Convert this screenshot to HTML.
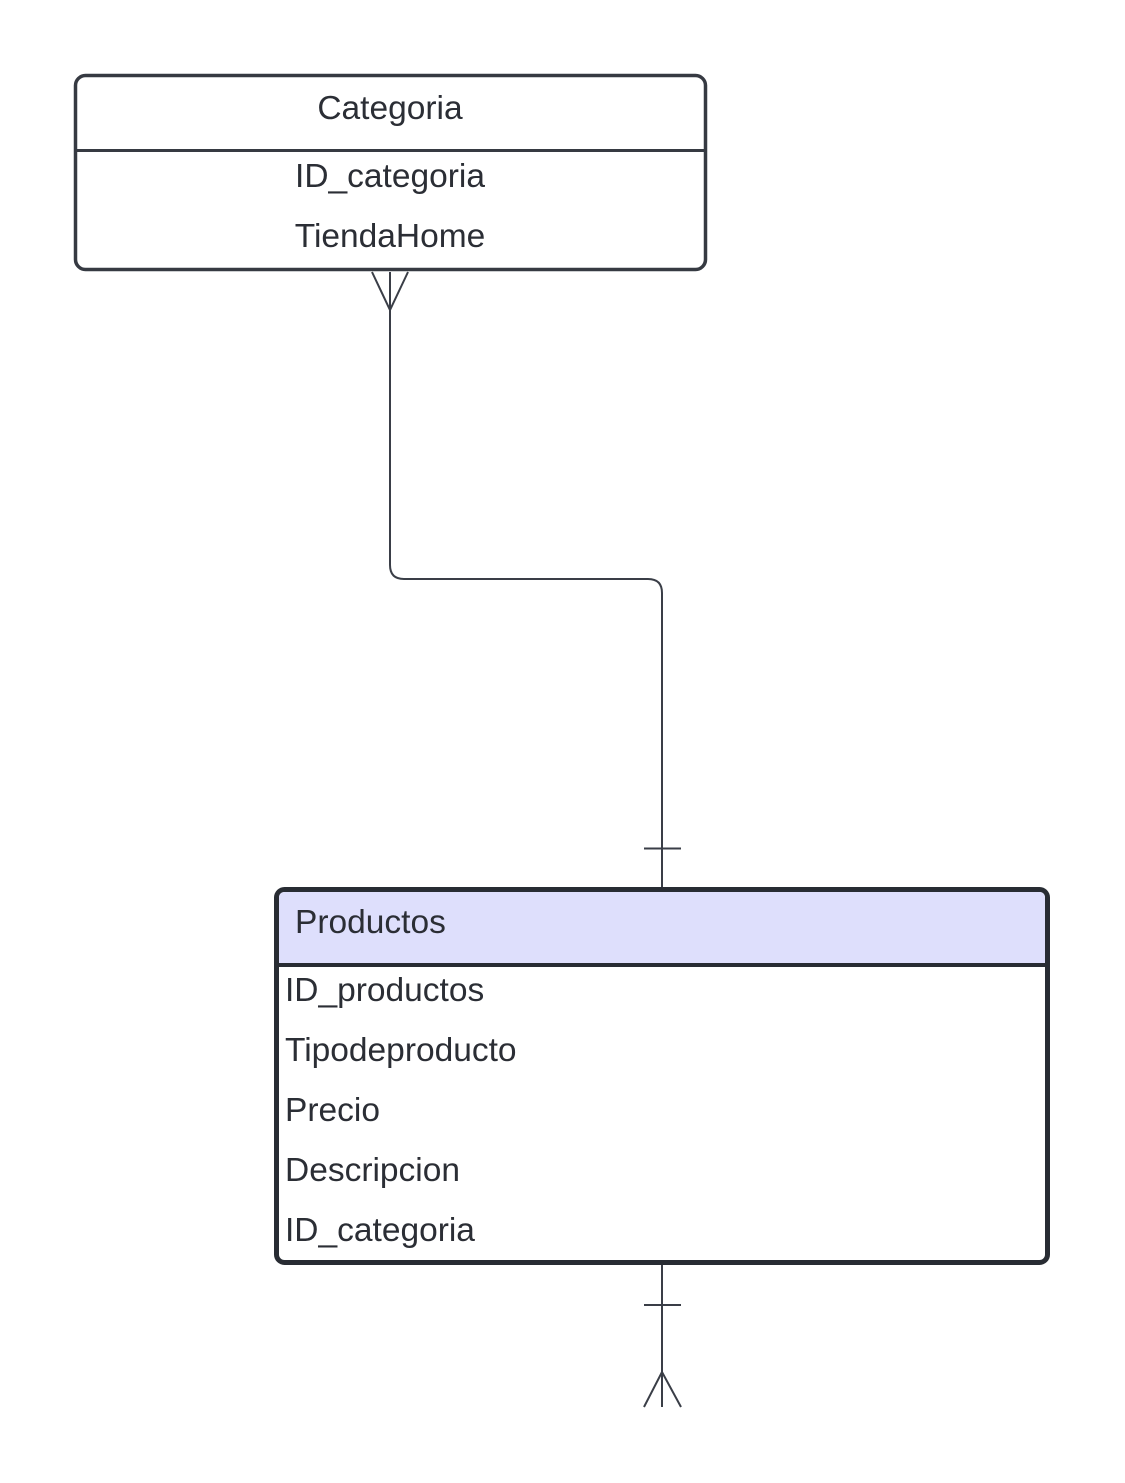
<!DOCTYPE html>
<html><head><meta charset="utf-8"><style>
html,body{margin:0;padding:0;background:#fff;}
svg{display:block;}
text{font-family:"Liberation Sans",sans-serif;font-size:33.5px;fill:#2b2e35;}
</style></head><body>
<svg width="1125" height="1483" viewBox="0 0 1125 1483">
<rect x="75.5" y="75.5" width="630" height="194" rx="10" fill="#fff" stroke="#363a42" stroke-width="3.5"/>
<line x1="75" y1="150.5" x2="706" y2="150.5" stroke="#363a42" stroke-width="3"/>
<text x="390" y="119" text-anchor="middle">Categoria</text>
<text x="390" y="187" text-anchor="middle">ID_categoria</text>
<text x="390" y="247" text-anchor="middle">TiendaHome</text>

<g stroke="#3a3e47" stroke-width="2" fill="none">
<path d="M390 272 V565 Q390 579 404 579 H648 Q662 579 662 593 V888"/>
<path d="M372 272 L390 310 L408 272"/>
<line x1="644" y1="848.5" x2="681" y2="848.5"/>
<line x1="662" y1="1264" x2="662" y2="1407"/>
<line x1="644" y1="1305" x2="681" y2="1305"/>
<path d="M644 1407 L662 1372 L681 1407"/>
</g>

<rect x="276.5" y="889.5" width="771" height="373" rx="8" fill="#fff" stroke="#282c33" stroke-width="5"/>
<path d="M279 964 V898 Q279 892 285 892 H1039 Q1045 892 1045 898 V964 Z" fill="#dedffc"/>
<line x1="276" y1="965" x2="1048" y2="965" stroke="#282c33" stroke-width="4"/>
<text x="295" y="933">Productos</text>
<text x="285" y="1001">ID_productos</text>
<text x="285" y="1061">Tipodeproducto</text>
<text x="285" y="1121">Precio</text>
<text x="285" y="1181">Descripcion</text>
<text x="285" y="1241">ID_categoria</text>
</svg>
</body></html>
